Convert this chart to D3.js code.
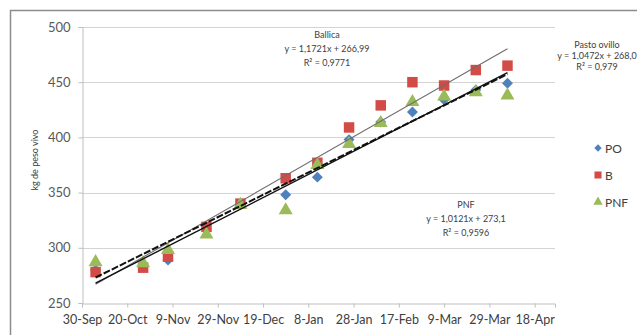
<!DOCTYPE html>
<html><head><meta charset="utf-8">
<script src="https://cdn.jsdelivr.net/npm/d3@7"></script>
<style>
html,body{margin:0;padding:0;background:#fff;}
text{font-family:Lato,"Open Sans",sans-serif;}
</style></head>
<body><svg id="c" width="637" height="335"></svg>
<script>
// ---- data ----
const dates = ["2010-10-06","2010-10-27","2010-11-07","2010-11-24","2010-12-09","2010-12-29","2011-01-12","2011-01-26","2011-02-09","2011-02-23","2011-03-09","2011-03-23","2011-04-06"];
const PO  = [280,284,289,317,339,348,364,398,414,423,434,443,449];
const B   = [278,282,292,319,340,363,377,409,429,450,447,461,465];
const PNF = [287,286,298,312,339,334,375,394,413,432,437,441,438];
const seriesNames = ["PO","B","PNF"];
const seriesColors = ["#4F81BD","#D24B46","#9BBB59"];
const tickDates = ["2010-09-30","2010-10-20","2010-11-09","2010-11-29","2010-12-19","2011-01-08","2011-01-28","2011-02-17","2011-03-09","2011-03-29","2011-04-18"];
const yTicks = [250,300,350,400,450,500];
// trendlines: y = a*x + b, x = days since first weighing
const trendNames = ["Ballica","Pasto ovillo","PNF"];
const trendA = [1.1721,1.0472,1.0121];
const trendB = [266.99,268.0,273.1];
const trendEq = ["y = 1,1721x + 266,99","y = 1,0472x + 268,0","y = 1,0121x + 273,1"];
const trendR2 = ["R² = 0,9771","R² = 0,979","R² = 0,9596"];

const parse = d3.timeParse("%Y-%m-%d");
const fmt = d3.timeFormat("%-d-%b");
const svg = d3.select("#c");

// frame
svg.append("rect").attr("x",10.5).attr("y",10.5).attr("width",640).attr("height",340)
  .attr("fill","#fff").attr("stroke","#8c8c8c").attr("stroke-width",1.5);

const x = d3.scaleTime().domain([parse("2010-09-30"), parse("2011-04-27")]).range([82,555]);
const y = d3.scaleLinear().domain([250,500]).range([303,27]);

// gridlines
svg.append("g").selectAll("line").data(yTicks.slice(1)).join("line")
  .attr("x1",82).attr("x2",555).attr("y1",d=>Math.round(y(d))+0.5).attr("y2",d=>Math.round(y(d))+0.5)
  .attr("stroke","#d4d4d4").attr("stroke-width",1);

// y axis
const ya = svg.append("g").attr("transform","translate(82.5,0)")
  .call(d3.axisLeft(y).tickValues(yTicks).tickSize(4).tickPadding(8));
ya.select(".domain").attr("stroke","#bfbfbf");
ya.selectAll(".tick line").attr("stroke","#bfbfbf");
ya.selectAll("text").attr("font-size","13px").attr("fill","#595959").attr("font-family","Lato");

// x axis
const xa = svg.append("g").attr("transform","translate(0,303.5)")
  .call(d3.axisBottom(x).tickValues(tickDates.map(parse)).tickFormat(fmt).tickSize(4).tickPadding(8));
xa.select(".domain").attr("stroke","#bfbfbf");
xa.selectAll(".tick line").attr("stroke","#bfbfbf");
xa.selectAll("text").attr("font-size","12.5px").attr("fill","#404040").attr("font-family","Lato");

// y title
svg.append("text").attr("transform","translate(38,160) rotate(-90)")
  .attr("text-anchor","middle").attr("font-size","9px").attr("fill","#404040").text("kg de peso vivo");

// markers
const shapes = [d3.symbolSquare, d3.symbolSquare, d3.symbolTriangle];
const rot = [45, 0, 0];
const sizes = [60, 110, 85];
[PO,B,PNF].forEach((vals,i)=>{
  svg.append("g").selectAll("path").data(vals).join("path")
    .attr("transform",(d,j)=>`translate(${x(parse(dates[j]))},${y(d)}) rotate(${rot[i]})`)
    .attr("d", d3.symbol().type(shapes[i]).size(sizes[i]))
    .attr("fill",seriesColors[i]);
});

// trendlines
const t0 = parse(dates[0]), t1 = parse(dates[dates.length-1]);
const span = d3.timeDay.count(t0,t1);
const tStyles = [
  {stroke:"#6e6e6e", w:1.1, dash:null},
  {stroke:"#111", w:1.4, dash:null},
  {stroke:"#111", w:2, dash:"7,2"}
];
trendA.forEach((a,i)=>{
  const st = tStyles[i];
  svg.append("line")
    .attr("x1",x(t0)).attr("y1",y(trendB[i]))
    .attr("x2",x(t1)).attr("y2",y(a*span+trendB[i]))
    .attr("stroke",st.stroke).attr("stroke-width",st.w)
    .attr("stroke-dasharray",st.dash);
});

// trend labels
const labPos = [[327,35,14],[597,45,11],[466,205,14]];
trendNames.forEach((n,i)=>{
  const [cx,cy,dy] = labPos[i];
  const g = svg.append("g").attr("font-size","9px").attr("fill","#404040").attr("text-anchor","middle");
  g.append("text").attr("x",cx).attr("y",cy+3).text(n);
  g.append("text").attr("x",cx).attr("y",cy+dy+3).text(trendEq[i]);
  g.append("text").attr("x",cx).attr("y",cy+2*dy+3).text(trendR2[i]);
});

// legend
seriesNames.forEach((n,i)=>{
  const ly = 148 + i*27;
  svg.append("path").attr("transform",`translate(598,${ly}) rotate(${rot[i]})`)
    .attr("d", d3.symbol().type(shapes[i]).size(sizes[i]*0.45)).attr("fill",seriesColors[i]);
  svg.append("text").attr("x",605).attr("y",ly+4.5).attr("font-size","12px").attr("fill","#404040").text(n);
});
</script></body></html>
